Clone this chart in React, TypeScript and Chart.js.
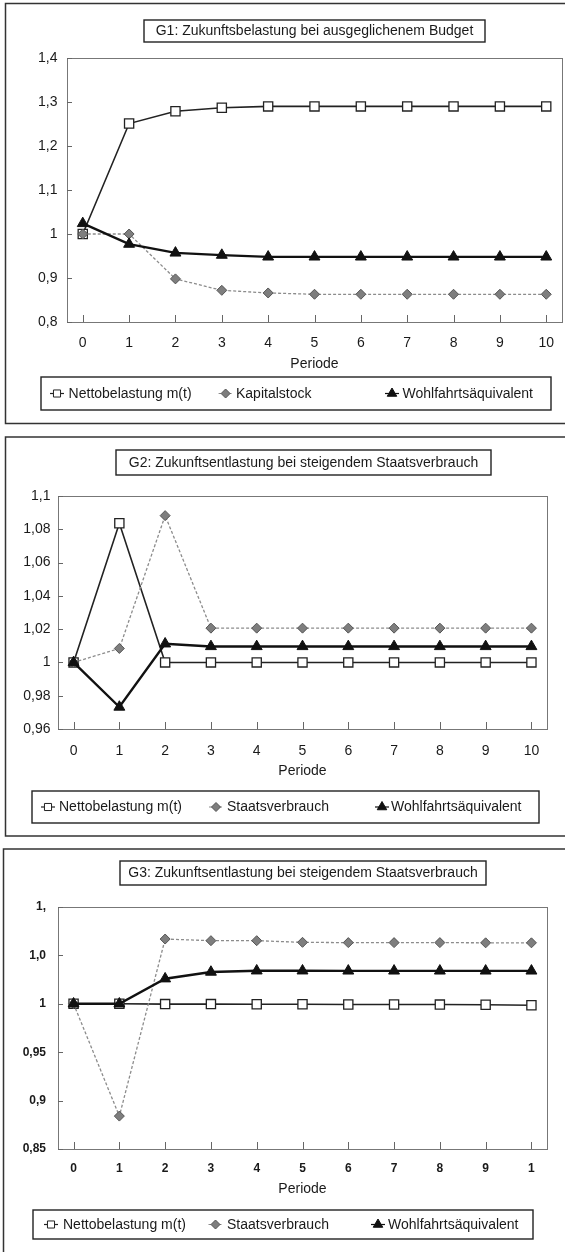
import React, { useEffect, useRef } from "react";
import { Chart, registerables } from "chart.js";

Chart.register(...registerables);

// ---------------- data ----------------
const periods = [0, 1, 2, 3, 4, 5, 6, 7, 8, 9, 10];
const periodLabels = ["0", "1", "2", "3", "4", "5", "6", "7", "8", "9", "10"];
const periodLabelsG3 = ["0", "1", "2", "3", "4", "5", "6", "7", "8", "9", "1"];
const xAxisTitle = "Periode";

const labelNetto = "Nettobelastung m(t)";
const labelKapital = "Kapitalstock";
const labelStaat = "Staatsverbrauch";
const labelWohl = "Wohlfahrtsäquivalent";

const g1Title = "G1: Zukunftsbelastung bei ausgeglichenem Budget";
const g1Netto = [1.0, 1.251, 1.279, 1.287, 1.29, 1.29, 1.29, 1.29, 1.29, 1.29, 1.29];
const g1Kapital = [1.0, 1.0, 0.898, 0.872, 0.866, 0.863, 0.863, 0.863, 0.863, 0.863, 0.863];
const g1Wohl = [1.024, 0.977, 0.957, 0.952, 0.948, 0.948, 0.948, 0.948, 0.948, 0.948, 0.948];
const g1YTicks = [0.8, 0.9, 1.0, 1.1, 1.2, 1.3, 1.4];
const g1YLabels = ["0,8", "0,9", "1", "1,1", "1,2", "1,3", "1,4"];

const g2Title = "G2: Zukunftsentlastung bei steigendem Staatsverbrauch";
const g2Netto = [1.0, 1.0836, 1.0, 1.0, 1.0, 1.0, 1.0, 1.0, 1.0, 1.0, 1.0];
const g2Staat = [1.0, 1.0084, 1.0882, 1.0206, 1.0206, 1.0206, 1.0206, 1.0206, 1.0206, 1.0206, 1.0206];
const g2Wohl = [1.0, 0.9732, 1.0112, 1.0096, 1.0096, 1.0096, 1.0096, 1.0096, 1.0096, 1.0096, 1.0096];
const g2YTicks = [0.96, 0.98, 1.0, 1.02, 1.04, 1.06, 1.08, 1.1];
const g2YLabels = ["0,96", "0,98", "1", "1,02", "1,04", "1,06", "1,08", "1,1"];

const g3Title = "G3: Zukunftsentlastung bei steigendem Staatsverbrauch";
const g3Netto = [1.0, 1.0, 0.9997, 0.9997, 0.9995, 0.9995, 0.9993, 0.9993, 0.9992, 0.999, 0.9985];
const g3Staat = [1.0, 0.884, 1.0669, 1.0652, 1.0652, 1.0635, 1.0632, 1.0632, 1.0632, 1.063, 1.063];
const g3Wohl = [1.0, 1.0, 1.0259, 1.0328, 1.0341, 1.0341, 1.034, 1.034, 1.034, 1.034, 1.034];
const g3YTicks = [0.85, 0.9, 0.95, 1.0, 1.05, 1.1];
const g3YLabels = ["0,85", "0,9", "0,95", "1", "1,0", "1,"];

// ---------------- styles / layout ----------------
const FONT = '"Liberation Sans", Arial, Helvetica, sans-serif';
const INK = "#1a1a1a";

type SeriesStyle = {
  line: string; width: number; dash: number[]; point: string; r: number;
  fill: string; stroke: string; pw: number; order: number; lr: number;
};

const styleNetto: SeriesStyle = { line: "#222", width: 1.6, dash: [], point: "rect", r: 6.5, fill: "#fff", stroke: "#222", pw: 1.3, order: 3, lr: 5 };
const styleSecond: SeriesStyle = { line: "#8c8c8c", width: 1.3, dash: [3, 2], point: "rectRot", r: 5, fill: "#7e7e7e", stroke: "#555", pw: 1, order: 2, lr: 4.5 };
const styleWohl: SeriesStyle = { line: "#111", width: 2.4, dash: [], point: "triangle", r: 6.3, fill: "#111", stroke: "#111", pw: 1, order: 1, lr: 5.5 };

type PanelSpec = {
  y: number; h: number;
  border: { left: number; top: number; bottom: number | null };
  titleBox: [number, number, number, number];
  title: string;
  plot: { left: number; right: number; top: number; bottom: number };
  xAxisH: number; xTickPad: number; xTitlePad: number;
  yTickPad: number;
  tickFontX: { size: number; weight: string };
  tickFontY: { size: number; weight: string };
  xLabels: string[];
  yTicks: number[]; yLabels: string[];
  legendBox: [number, number, number, number];
  legendItems: [number, number][];
  series: { label: string; values: number[]; style: SeriesStyle }[];
};

const panels: PanelSpec[] = [
  {
    y: 0, h: 430,
    border: { left: 5.5, top: 3.5, bottom: 423.5 },
    titleBox: [144, 20, 485, 42],
    title: g1Title,
    plot: { left: 67, right: 562, top: 58, bottom: 322 },
    xAxisH: 60, xTickPad: 12.6, xTitlePad: 9.6, yTickPad: 9.5,
    tickFontX: { size: 14, weight: "normal" }, tickFontY: { size: 14, weight: "normal" },
    xLabels: periodLabels, yTicks: g1YTicks, yLabels: g1YLabels,
    legendBox: [41, 377, 551, 410],
    legendItems: [[57, 68.6], [225.6, 236], [392, 402.5]],
    series: [
      { label: labelNetto, values: g1Netto, style: styleNetto },
      { label: labelKapital, values: g1Kapital, style: styleSecond },
      { label: labelWohl, values: g1Wohl, style: styleWohl },
    ],
  },
  {
    y: 430, h: 413,
    border: { left: 5.5, top: 7, bottom: 406 },
    titleBox: [116, 20, 491, 45],
    title: g2Title,
    plot: { left: 58, right: 547, top: 66, bottom: 299 },
    xAxisH: 60, xTickPad: 13.6, xTitlePad: 9.6, yTickPad: 7.5,
    tickFontX: { size: 14, weight: "normal" }, tickFontY: { size: 14, weight: "normal" },
    xLabels: periodLabels, yTicks: g2YTicks, yLabels: g2YLabels,
    legendBox: [32, 361, 539, 393],
    legendItems: [[48, 59], [216, 227], [382, 391]],
    series: [
      { label: labelNetto, values: g2Netto, style: styleNetto },
      { label: labelStaat, values: g2Staat, style: styleSecond },
      { label: labelWohl, values: g2Wohl, style: styleWohl },
    ],
  },
  {
    y: 843, h: 409,
    border: { left: 3.5, top: 6, bottom: null },
    titleBox: [120, 18, 486, 42],
    title: g3Title,
    plot: { left: 58, right: 547, top: 64, bottom: 306 },
    xAxisH: 58, xTickPad: 12.8, xTitlePad: 9.6, yTickPad: 12,
    tickFontX: { size: 12, weight: "bold" }, tickFontY: { size: 12, weight: "bold" },
    xLabels: periodLabelsG3, yTicks: g3YTicks, yLabels: g3YLabels,
    legendBox: [33, 367, 533, 396],
    legendItems: [[51, 63], [215.5, 227], [378, 388]],
    series: [
      { label: labelNetto, values: g3Netto, style: styleNetto },
      { label: labelStaat, values: g3Staat, style: styleSecond },
      { label: labelWohl, values: g3Wohl, style: styleWohl },
    ],
  },
];

const CANVAS_W = 565;

function drawMarker(ctx: CanvasRenderingContext2D, kind: string, x: number, y: number, r: number, fill: string, stroke: string, lw: number) {
  ctx.save();
  ctx.beginPath();
  if (kind === "rect") {
    const s = r * Math.SQRT1_2;
    ctx.rect(x - s, y - s, 2 * s, 2 * s);
  } else if (kind === "rectRot") {
    ctx.moveTo(x - r, y);
    ctx.lineTo(x, y - r);
    ctx.lineTo(x + r, y);
    ctx.lineTo(x, y + r);
    ctx.closePath();
  } else {
    const a1 = (2 * Math.PI) / 3;
    const a2 = (4 * Math.PI) / 3;
    ctx.moveTo(x, y - r);
    ctx.lineTo(x + r * Math.sin(a1), y - r * Math.cos(a1));
    ctx.lineTo(x + r * Math.sin(a2), y - r * Math.cos(a2));
    ctx.closePath();
  }
  ctx.fillStyle = fill;
  ctx.fill();
  ctx.lineWidth = lw;
  ctx.strokeStyle = stroke;
  ctx.stroke();
  ctx.restore();
}

function makeDeco(spec: PanelSpec) {
  return {
    id: "deco",
    beforeDraw(chart: any) {
      const ctx = chart.ctx as CanvasRenderingContext2D;
      ctx.save();
      ctx.fillStyle = "#fff";
      ctx.fillRect(0, 0, chart.width, chart.height);
      ctx.restore();
    },
    beforeDatasetsDraw(chart: any) {
      const ctx = chart.ctx as CanvasRenderingContext2D;
      const a = chart.chartArea;
      ctx.save();
      // plot frame
      ctx.strokeStyle = "#777";
      ctx.lineWidth = 1;
      ctx.strokeRect(Math.round(a.left) + 0.5, Math.round(a.top) + 0.5, Math.round(a.right - a.left), Math.round(a.bottom - a.top));
      // inner tick marks
      ctx.strokeStyle = "#666";
      const xs = chart.scales.x;
      xs.ticks.forEach((t: any) => {
        const px = Math.round(xs.getPixelForValue(t.value)) + 0.5;
        ctx.beginPath();
        ctx.moveTo(px, a.bottom);
        ctx.lineTo(px, a.bottom - 7);
        ctx.stroke();
      });
      const ys = chart.scales.y;
      ys.ticks.forEach((t: any) => {
        const py = Math.round(ys.getPixelForValue(t.value)) + 0.5;
        ctx.beginPath();
        ctx.moveTo(a.left, py);
        ctx.lineTo(a.left + 5, py);
        ctx.stroke();
      });
      ctx.restore();
    },
    afterDraw(chart: any) {
      const ctx = chart.ctx as CanvasRenderingContext2D;
      ctx.save();
      // panel border (right side lies beyond the page)
      const b = spec.border;
      ctx.strokeStyle = "#333";
      ctx.lineWidth = 1.5;
      ctx.beginPath();
      ctx.moveTo(CANVAS_W + 5, b.top);
      ctx.lineTo(b.left, b.top);
      ctx.lineTo(b.left, b.bottom === null ? chart.height + 5 : b.bottom);
      if (b.bottom !== null) ctx.lineTo(CANVAS_W + 5, b.bottom);
      ctx.stroke();

      // title box
      const [tx1, ty1, tx2, ty2] = spec.titleBox;
      ctx.lineWidth = 1.4;
      ctx.strokeStyle = "#222";
      ctx.strokeRect(tx1, ty1, tx2 - tx1, ty2 - ty1);
      ctx.fillStyle = INK;
      ctx.font = `14px ${FONT}`;
      ctx.textAlign = "center";
      ctx.textBaseline = "middle";
      ctx.fillText(spec.title, (tx1 + tx2) / 2, (ty1 + ty2) / 2 + 0.5);

      // legend box
      const [lx1, ly1, lx2, ly2] = spec.legendBox;
      ctx.lineWidth = 1.4;
      ctx.strokeStyle = "#222";
      ctx.strokeRect(lx1, ly1, lx2 - lx1, ly2 - ly1);
      const cy = (ly1 + ly2) / 2;
      chart.data.datasets.forEach((ds: any, i: number) => {
        const st = spec.series[i].style;
        const [mx, textX] = spec.legendItems[i];
        ctx.save();
        ctx.strokeStyle = st.line;
        ctx.lineWidth = 1.2;
        ctx.setLineDash(st.dash);
        ctx.beginPath();
        ctx.moveTo(mx - 7, cy);
        ctx.lineTo(mx + 7, cy);
        ctx.stroke();
        ctx.restore();
        drawMarker(ctx, st.point, mx, cy, st.lr, st.fill, st.stroke, 1);
        ctx.fillStyle = INK;
        ctx.font = `14px ${FONT}`;
        ctx.textAlign = "left";
        ctx.textBaseline = "middle";
        ctx.fillText(ds.label, textX, cy + 0.5);
      });
      ctx.restore();
    },
  };
}

function buildConfig(spec: PanelSpec): any {
  const p = spec.plot;
  return {
    type: "line",
    data: {
      datasets: spec.series.map((s) => ({
        label: s.label,
        data: periods.map((x, j) => ({ x, y: s.values[j] })),
        borderColor: s.style.line,
        borderWidth: s.style.width,
        borderDash: s.style.dash,
        pointStyle: s.style.point,
        pointRadius: s.style.r,
        pointBackgroundColor: s.style.fill,
        pointBorderColor: s.style.stroke,
        pointBorderWidth: s.style.pw,
        tension: 0,
        fill: false,
        order: s.style.order,
      })),
    },
    options: {
      responsive: false,
      animation: false,
      events: [],
      layout: {
        autoPadding: false,
        padding: {
          left: 0,
          top: p.top,
          right: CANVAS_W - p.right,
          bottom: spec.h - p.bottom - spec.xAxisH,
        },
      },
      plugins: {
        legend: { display: false },
        title: { display: false },
        tooltip: { enabled: false },
      },
      scales: {
        x: {
          type: "linear",
          min: -0.34,
          max: 10.34,
          grid: { display: false, drawTicks: false },
          border: { display: false },
          afterBuildTicks: (s: any) => {
            s.ticks = periods.map((v) => ({ value: v }));
          },
          afterFit: (s: any) => {
            s.height = spec.xAxisH;
            s.paddingLeft = 0;
            s.paddingRight = 0;
          },
          ticks: {
            autoSkip: false,
            maxRotation: 0,
            minRotation: 0,
            padding: spec.xTickPad,
            color: INK,
            font: { family: FONT, size: spec.tickFontX.size, weight: spec.tickFontX.weight },
            callback: (_v: any, i: number) => spec.xLabels[i],
          },
          title: {
            display: true,
            text: xAxisTitle,
            color: INK,
            font: { family: FONT, size: 14 },
            padding: { top: 0, bottom: spec.xTitlePad },
          },
        },
        y: {
          type: "linear",
          min: spec.yTicks[0],
          max: spec.yTicks[spec.yTicks.length - 1],
          grid: { display: false, drawTicks: false },
          border: { display: false },
          afterBuildTicks: (s: any) => {
            s.ticks = spec.yTicks.map((v) => ({ value: v }));
          },
          afterFit: (s: any) => {
            s.width = p.left;
          },
          ticks: {
            autoSkip: false,
            padding: spec.yTickPad,
            color: INK,
            font: { family: FONT, size: spec.tickFontY.size, weight: spec.tickFontY.weight },
            callback: (_v: any, i: number) => spec.yLabels[i],
          },
        },
      },
    },
    plugins: [makeDeco(spec)],
  };
}

function ChartPanel({ spec }: { spec: PanelSpec }) {
  const ref = useRef<HTMLCanvasElement | null>(null);
  useEffect(() => {
    if (!ref.current) return;
    const chart = new Chart(ref.current, buildConfig(spec));
    return () => chart.destroy();
  }, [spec]);
  return (
    <canvas
      ref={ref}
      width={CANVAS_W}
      height={spec.h}
      style={{ position: "absolute", left: 0, top: spec.y, display: "block" }}
    />
  );
}

export default function App() {
  return (
    <div
      style={{
        position: "absolute",
        left: 0,
        top: 0,
        width: 565,
        height: 1252,
        overflow: "hidden",
        background: "#fff",
      }}
    >
      {panels.map((spec, i) => (
        <ChartPanel key={i} spec={spec} />
      ))}
    </div>
  );
}
